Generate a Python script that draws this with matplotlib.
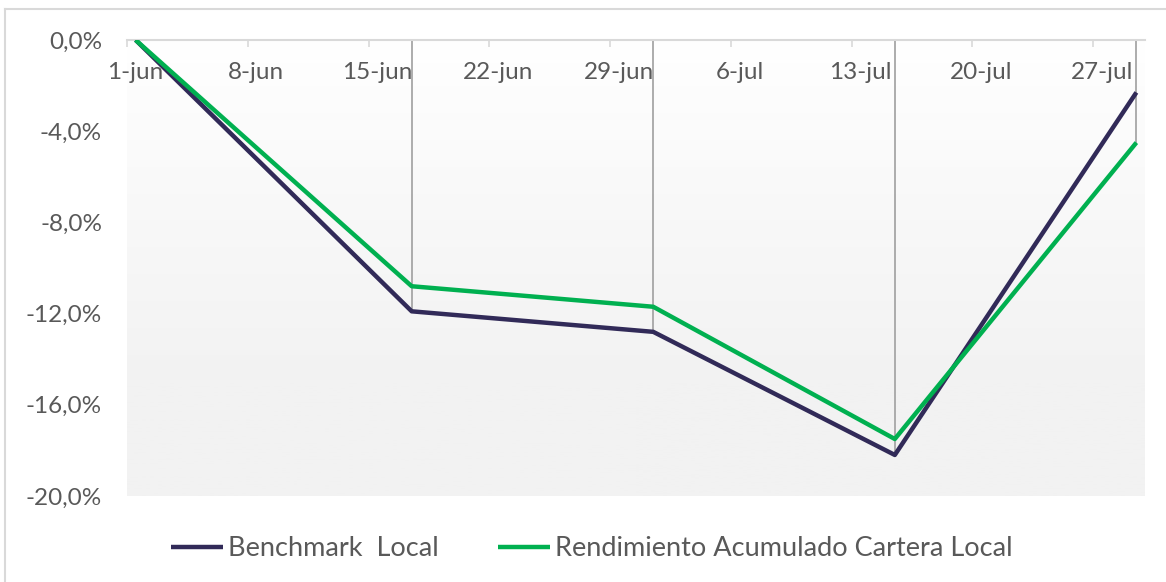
import matplotlib
matplotlib.use("Agg")
import matplotlib.pyplot as plt
import matplotlib.dates as mdates
import numpy as np
import pandas as pd
from datetime import timedelta
from matplotlib.lines import Line2D
from matplotlib.colors import LinearSegmentedColormap

plt.rcParams['font.family'] = ['Lato', 'DejaVu Sans']

# ---- data ----
dates = pd.to_datetime(["2020-06-01", "2020-06-17", "2020-07-01", "2020-07-15", "2020-07-29"])
benchmark = [0.0, -11.9, -12.8, -18.2, -2.3]
cartera = [0.0, -10.8, -11.7, -17.5, -4.5]
tick_dates = pd.date_range("2020-06-01", periods=9, freq="7D")
tick_labels = ["1-jun", "8-jun", "15-jun", "22-jun", "29-jun", "6-jul", "13-jul", "20-jul", "27-jul"]
y_ticks = [0, -4, -8, -12, -16, -20]
y_labels = ["0,0%", "-4,0%", "-8,0%", "-12,0%", "-16,0%", "-20,0%"]
series_names = ["Benchmark  Local", "Rendimiento Acumulado Cartera Local"]

W, H = 1166, 582
FS = 17.5
fig = plt.figure(figsize=(W / 100, H / 100), dpi=100)
ax = fig.add_axes([127 / W, 1 - 496 / H, (1145 - 127) / W, (496 - 40) / H])

half = timedelta(hours=12)
x0 = mdates.date2num(dates[0] - half)
x1 = mdates.date2num(dates[-1] + half)
ax.set_xlim(x0, x1)
ax.set_ylim(-20, 0)

# gradient background
grad = np.linspace(0, 1, 256).reshape(-1, 1)
cmap = LinearSegmentedColormap.from_list("g", [(0, "#ffffff"), (0.1, "#fdfdfd"), (0.75, "#f2f2f2"), (1, "#f2f2f2")])
ax.imshow(grad, extent=[x0, x1, -20, 0], origin="upper", aspect="auto", cmap=cmap, zorder=0)
ax.set_facecolor("white")

# drop lines
lows = np.minimum(benchmark, cartera)
ax.vlines(dates[1:], lows[1:], 0, color="#a6a6a6", lw=1.3, zorder=1)

ax.plot(dates, benchmark, color="#312a58", lw=3.2, zorder=3, label=series_names[0], solid_capstyle="butt")
ax.plot(dates, cartera, color="#00b050", lw=3.2, zorder=4, label=series_names[1], solid_capstyle="butt")

for s in ["left", "right", "bottom"]:
    ax.spines[s].set_visible(False)
ax.spines["top"].set_color("#d9d9d9")
ax.spines["top"].set_linewidth(1.5)

# x ticks: labels at day centres, tick marks at day boundaries
ax.xaxis.tick_top()
ax.set_xticks(tick_dates)
ax.set_xticklabels(tick_labels)
ax.tick_params(axis="x", which="major", length=0, pad=-31, labelsize=FS, labelcolor="#595959")
ax.set_xticks([mdates.date2num(d - half) for d in tick_dates], minor=True)
ax.tick_params(axis="x", which="minor", direction="in", length=5, width=1.2, color="#d9d9d9", top=True, bottom=False)

ax.set_yticks(y_ticks)
ax.set_yticklabels(y_labels)
ax.tick_params(axis="y", length=0, pad=18, labelsize=FS, labelcolor="#595959")

# figure border (left and top)
fig.add_artist(Line2D([5 / W, 5 / W], [0, 1 - 9 / H], transform=fig.transFigure, color="#d9d9d9", lw=1.5))
fig.add_artist(Line2D([5 / W, 1], [1 - 9 / H, 1 - 9 / H], transform=fig.transFigure, color="#d9d9d9", lw=1.5))

leg = fig.legend(loc="center", bbox_to_anchor=(592 / W, 1 - 549 / H), ncol=2, frameon=False,
                 fontsize=19.5, handlelength=1.9, handletextpad=0.2, columnspacing=2.2)
for t in leg.get_texts():
    t.set_color("#595959")

fig.savefig("out.png", dpi=100)
